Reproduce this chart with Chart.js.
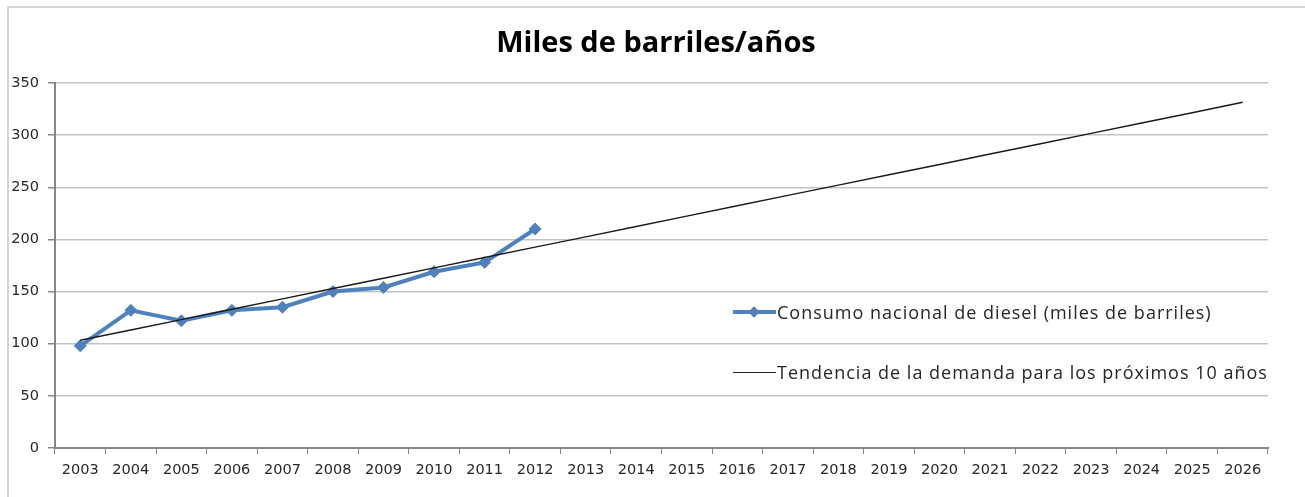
<!DOCTYPE html>
<html lang="es">
<head>
  <meta charset="UTF-8">
  <title>Miles de barriles/años</title>
  <style>
    body {
      margin: 0;
      padding: 0;
      background: #fff;
      font-family: "Open Sans", sans-serif;
    }
    .frame {
      position: absolute;
      left: 7px;
      top: 6px;
      width: 1310px;
      height: 500px;
      border-left: 2px solid #d4d4d4;
      border-top: 2px solid #d4d4d4;
    }
    .wrap {
      position: absolute;
      left: 0;
      top: 0;
      width: 1305px;
      height: 497px;
    }
    .title {
      position: absolute;
      left: 0;
      top: 24px;
      width: 1312px;
      text-align: center;
      font-size: 29px;
      font-weight: bold;
      line-height: 34px;
      color: #000;
    }
    .legend {
      position: absolute;
      left: 733px;
      top: 296px;
      color: #262626;
      font-size: 18px;
      letter-spacing: 1px;
    }
    .legend .row {
      display: flex;
      align-items: center;
      height: 32px;
      margin-bottom: 28px;
      white-space: nowrap;
    }
    .legend .sample {
      position: relative;
      width: 43px;
      height: 12px;
      margin-right: 1px;
    }
    .legend .sample .ln {
      position: absolute;
      left: 0;
      right: 0;
      top: 50%;
    }
    .legend .blue .ln { height: 4px; margin-top: -2px; background: #4f81bd; }
    .legend .black .ln { height: 1px; margin-top: 0; background: #222; }
    .legend .dia {
      position: absolute;
      left: 17px;
      top: 2px;
      width: 8px;
      height: 8px;
      background: #4f81bd;
      transform: rotate(45deg);
    }
  </style>
</head>
<body>
  <div class="frame"></div>
  <div class="wrap">
    <canvas id="chart" width="1305" height="497"></canvas>
  </div>
  <div class="title">Miles de barriles/años</div>
  <div class="legend">
    <div class="row"><span class="sample blue"><span class="ln"></span><span class="dia"></span></span>Consumo nacional de diesel (miles de barriles)</div>
    <div class="row"><span class="sample black"><span class="ln"></span></span>Tendencia de la demanda para los próximos 10 años</div>
  </div>

  <script src="https://cdn.jsdelivr.net/npm/chart.js"></script>
  <script>
    // years on the x axis
    const years = ['2003', '2004', '2005', '2006', '2007', '2008', '2009', '2010', '2011', '2012',
      '2013', '2014', '2015', '2016', '2017', '2018', '2019', '2020', '2021', '2022',
      '2023', '2024', '2025', '2026'];

    // national diesel consumption (thousand barrels)
    const consumo = [98, 132, 122, 132, 135, 150, 154, 169, 178, 210];

    // linear demand trend
    const tendencia = [103.3, 113.2, 123.1, 133.1, 143.0, 152.9, 162.8, 172.7, 182.7, 192.6,
      202.5, 212.4, 222.3, 232.3, 242.2, 252.1, 262.0, 271.9, 281.9, 291.8,
      301.7, 311.6, 321.5, 331.5];

    const yTicks = [0, 50, 100, 150, 200, 250, 300, 350];

    const axisColor = '#868686';
    const gridColor = '#c4c4c4';
    const tickFont = { family: 'DejaVu Sans', size: 14.5 };

    const ctx = document.getElementById('chart').getContext('2d');
    new Chart(ctx, {
      type: 'line',
      data: {
        labels: years,
        datasets: [
          {
            label: 'Tendencia de la demanda para los próximos 10 años',
            data: tendencia,
            borderColor: '#1a1a1a',
            borderWidth: 1.4,
            pointRadius: 0,
            fill: false,
            tension: 0
          },
          {
            label: 'Consumo nacional de diesel (miles de barriles)',
            data: consumo,
            borderColor: '#4f81bd',
            backgroundColor: '#4f81bd',
            borderWidth: 4,
            pointStyle: 'rectRot',
            pointRadius: 6,
            pointBorderWidth: 1,
            fill: false,
            tension: 0
          }
        ]
      },
      options: {
        responsive: false,
        animation: false,
        layout: {
          // top space holds the html title
          padding: { left: 8, right: 37, top: 83, bottom: 6 }
        },
        plugins: {
          legend: { display: false },
          tooltip: { enabled: false },
          title: { display: false }
        },
        scales: {
          x: {
            offset: true,
            grid: {
              display: true,
              offset: true,
              drawOnChartArea: false,
              drawTicks: true,
              tickLength: 6,
              tickColor: axisColor
            },
            border: { color: axisColor, width: 2 },
            ticks: {
              color: '#262626',
              font: tickFont,
              autoSkip: false,
              maxRotation: 0,
              padding: 8
            },
            afterFit: (s) => { s.height = 43; }
          },
          y: {
            min: 0,
            max: 350,
            afterBuildTicks: (s) => { s.ticks = yTicks.map(v => ({ value: v })); },
            grid: {
              color: gridColor,
              lineWidth: 1.5,
              tickLength: 7,
              tickColor: axisColor
            },
            border: { color: axisColor, width: 2 },
            ticks: {
              color: '#262626',
              font: tickFont,
              padding: 9
            },
            afterFit: (s) => { s.width = 47; }
          }
        }
      }
    });
  </script>
</body>
</html>
